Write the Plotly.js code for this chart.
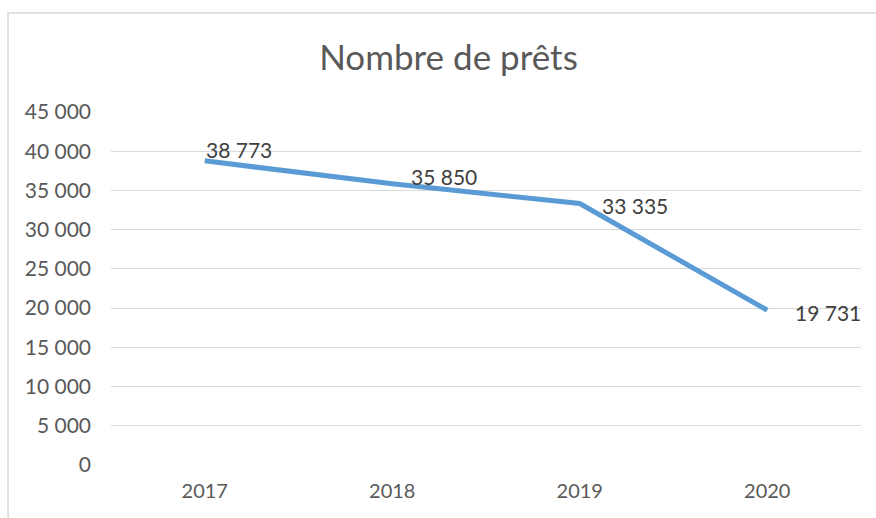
<!DOCTYPE html>
<html>
<head>
<meta charset="utf-8">
<script src="https://cdn.plot.ly/plotly-3.0.1.min.js"></script>
<style>
html,body{margin:0;padding:0;background:#fff;}
#chart{width:876px;height:518px;}
</style>
</head>
<body>
<div id="chart"></div>
<script>
const years = ['2017', '2018', '2019', '2020'];
const prets = [38773, 35850, 33335, 19731];
const yTicks = [0, 5000, 10000, 15000, 20000, 25000, 30000, 35000, 40000, 45000];
const labelXShift = [-1, 17, 20, 26];
const labelYShift = [11, 7, -2, -2];

function fmt(v) {
  return String(v).replace(/\B(?=(\d{3})+(?!\d))/g, ' ');
}

const font = 'Lato, "Open Sans", sans-serif';
const grey = '#595959';

const trace = {
  x: years,
  y: prets,
  type: 'scatter',
  mode: 'lines',
  line: {color: '#5B9BD5', width: 5},
  hoverinfo: 'skip'
};

const annotations = years.map((yr, i) => ({
  x: i, y: prets[i], xref: 'x', yref: 'y',
  text: fmt(prets[i]), showarrow: false,
  xanchor: 'left', yanchor: 'middle',
  xshift: labelXShift[i], yshift: labelYShift[i],
  font: {family: font, size: 21, color: '#404040'}
}));

const layout = {
  width: 876, height: 518,
  margin: {l: 111, r: 15, t: 112, b: 53},
  paper_bgcolor: '#ffffff',
  plot_bgcolor: '#ffffff',
  showlegend: false,
  title: {
    text: 'Nombre de prêts',
    font: {family: font, size: 35, color: grey},
    x: 0.512, xanchor: 'center', y: 0.888, yanchor: 'middle'
  },
  xaxis: {
    type: 'category',
    categoryarray: years,
    range: [-0.5, 3.5],
    showgrid: false, zeroline: false, showline: false,
    ticks: '', ticklabelstandoff: 12,
    tickfont: {family: font, size: 20, color: grey}
  },
  yaxis: {
    range: [0, 45000],
    tickvals: yTicks,
    ticktext: yTicks.map(fmt),
    showgrid: true, gridcolor: '#d9d9d9', gridwidth: 1,
    zeroline: false, showline: false, ticks: '',
    ticklabelstandoff: 19,
    tickfont: {family: font, size: 21, color: grey}
  },
  annotations: annotations,
  shapes: [{
    type: 'rect', xref: 'paper', yref: 'paper',
    x0: -0.1373, x1: 1.03, y0: -0.2, y1: 1.2805,
    line: {color: '#d9d9d9', width: 1.5}, fillcolor: 'rgba(0,0,0,0)', layer: 'below'
  }]
};

Plotly.newPlot('chart', [trace], layout, {displayModeBar: false, staticPlot: true});
</script>
</body>
</html>
